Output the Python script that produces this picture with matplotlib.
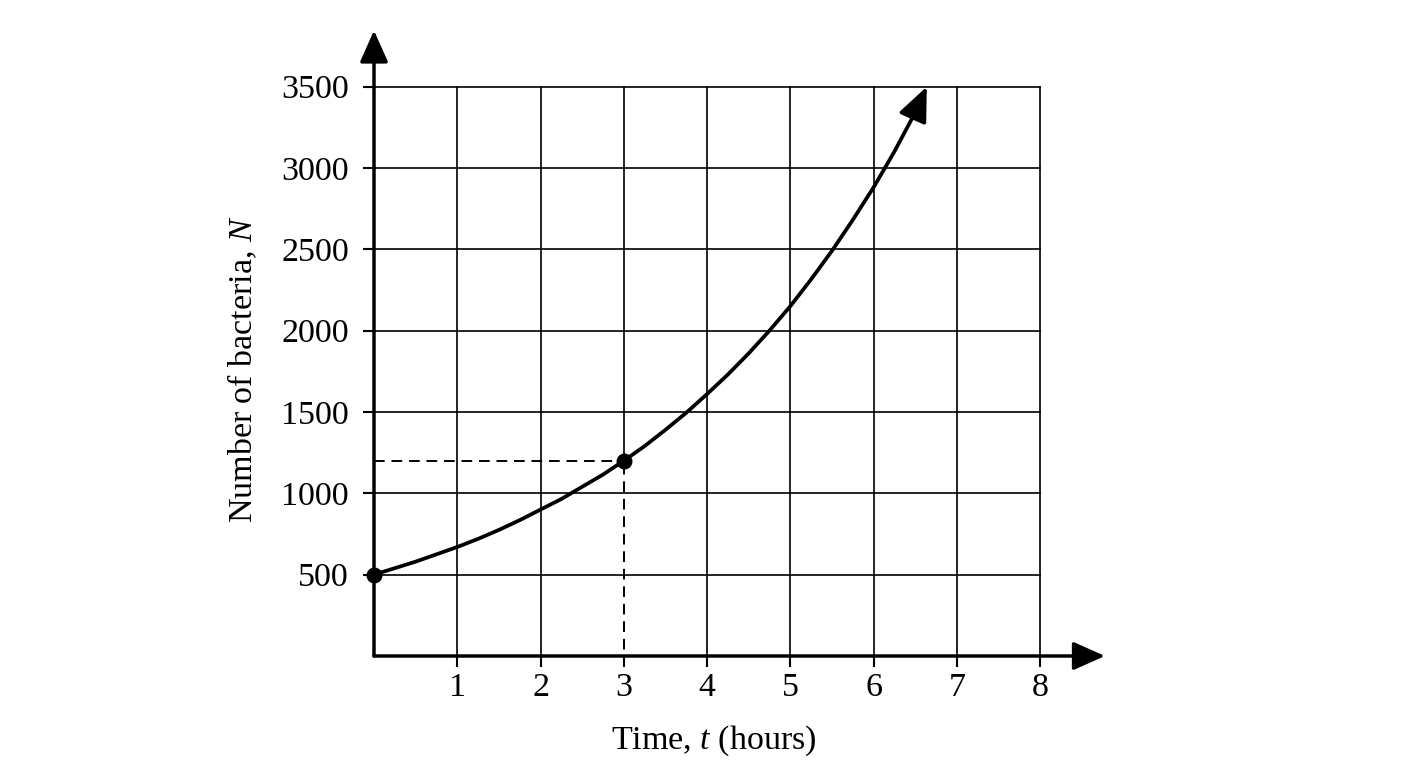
import matplotlib.pyplot as plt

# valeurs
temps = [0, 0.25, 0.5, 0.75, 1, 1.25, 1.5, 1.75, 2, 2.25, 2.5, 2.75, 3, 3.25,
         3.5, 3.75, 4, 4.25, 4.5, 4.75, 5, 5.25, 5.5, 5.75, 6, 6.25, 6.5]
bacteries = [500, 540, 580, 625, 670, 720, 775, 835, 900, 965, 1040, 1115, 1200, 1290,
             1390, 1495, 1610, 1730, 1860, 2000, 2150, 2315, 2490, 2680, 2880, 3100, 3340]
fin_courbe = (6.64, 3500)
points = ([0, 3], [500, 1200])
x_ticks = [1, 2, 3, 4, 5, 6, 7, 8]
y_ticks = [500, 1000, 1500, 2000, 2500, 3000, 3500]

plt.rcParams['font.family'] = ['Liberation Serif', 'DejaVu Serif']
plt.rcParams['mathtext.fontset'] = 'custom'
plt.rcParams['mathtext.it'] = 'Liberation Serif:italic'
plt.rcParams['mathtext.rm'] = 'Liberation Serif'

fig = plt.figure(figsize=(14.08, 7.68), dpi=100)
W, H = 1408, 768
x0, y0 = 374, 656
px_x = 83.25
px_y = 0.16267
xmax, ymax = 8.8, 3860
ax = fig.add_axes([x0 / W, (H - y0) / H, xmax * px_x / W, ymax * px_y / H])
ax.set_xlim(0, xmax)
ax.set_ylim(0, ymax)
for s in ax.spines.values():
    s.set_visible(False)

# grille (la verticale t=3 est pointillee sous le point)
for x in x_ticks:
    bas = points[1][1] if x == points[0][1] else 0
    ax.plot([x, x], [bas, y_ticks[-1]], color='black', lw=1.2, zorder=1)
for y in y_ticks:
    ax.plot([0, x_ticks[-1]], [y, y], color='black', lw=1.2, zorder=1)

# axes avec fleches
fleche = '-|>,head_length=0.65,head_width=0.29'
ax.annotate('', xy=(8.78, 0), xytext=(0, 0), annotation_clip=False,
            arrowprops=dict(arrowstyle=fleche, lw=2.5, color='black',
                            mutation_scale=30, shrinkA=0, shrinkB=0))
ax.annotate('', xy=(0, 3845), xytext=(0, 0), annotation_clip=False,
            arrowprops=dict(arrowstyle=fleche, lw=2.5, color='black',
                            mutation_scale=30, shrinkA=0, shrinkB=0))

ax.set_xticks(x_ticks)
ax.set_yticks(y_ticks)
ax.tick_params(direction='out', length=8, width=1.5, labelsize=24.5)
ax.tick_params(axis='x', pad=4)
ax.tick_params(axis='y', pad=10)

# lignes pointillees
ax.plot([0, points[0][1]], [points[1][1], points[1][1]], color='black', lw=1.4,
        dashes=(5.5, 3.5), zorder=2)
ax.plot([points[0][1], points[0][1]], [-70, points[1][1]], color='black', lw=1.4,
        dashes=(5.5, 3.5), zorder=2, clip_on=False)

# courbe
ax.plot(temps, bacteries, color='black', lw=2.7, zorder=3, solid_capstyle='butt',
        solid_joinstyle='round')
ax.annotate('', xy=fin_courbe, xytext=(temps[-1], bacteries[-1]), annotation_clip=False,
            arrowprops=dict(arrowstyle='-|>,head_length=0.7,head_width=0.3', lw=2.7,
                            color='black', mutation_scale=30, shrinkA=0, shrinkB=0))
ax.scatter(points[0], points[1], s=110, color='black', zorder=4, clip_on=False)

ax.text(4.08, -520, 'Time, $t$ (hours)', ha='center', va='center', fontsize=24.5)
ax.text(-1.58, 1760, 'Number of bacteria, $N$', ha='center', va='center',
        rotation=90, fontsize=24.5)

fig.savefig('out.png', dpi=100)
